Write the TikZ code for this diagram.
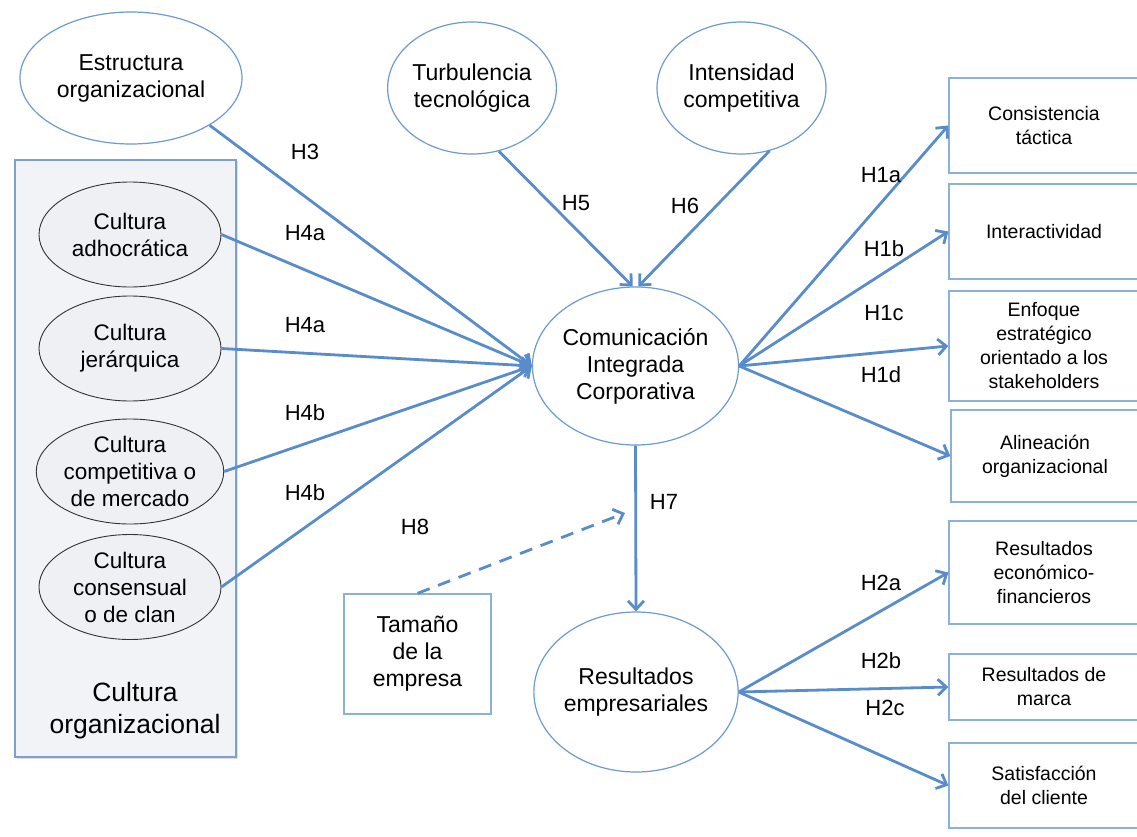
\documentclass[tikz,border=0pt]{standalone}
\usepackage{fontspec}
\setmainfont{Liberation Sans}
\usetikzlibrary{shapes.geometric,arrows.meta,shadows}

\definecolor{arrowblue}{RGB}{88,140,202}
\definecolor{edgeblue}{RGB}{108,154,210}
\definecolor{boxblue}{RGB}{140,176,220}
\definecolor{panelfill}{RGB}{241,243,246}
\definecolor{panelborder}{RGB}{125,160,207}
\definecolor{cultfill}{RGB}{238,240,243}

\begin{document}
\begin{tikzpicture}[x=1pt,y=-1pt,
  bigtext/.style={font=\fontsize{23}{27}\selectfont},
  smalltext/.style={font=\fontsize{19.5}{24}\selectfont},
  hlabel/.style={font=\fontsize{22}{26}\selectfont},
  construct/.style={ellipse, draw=edgeblue, line width=1.2pt, fill=white,
    inner sep=0pt, align=center, bigtext},
  culture/.style={ellipse, draw=black!80, line width=0.9pt, fill=cultfill,
    minimum width=182pt, minimum height=105pt, inner sep=0pt, align=center,
    font=\fontsize{22.5}{27}\selectfont},
  outcome/.style={rectangle, draw=boxblue, line width=1.3pt, fill=white,
    minimum width=190pt, inner sep=0pt, align=center, smalltext},
  panel/.style={rectangle, draw=panelborder, line width=1.2pt, fill=panelfill,
    drop shadow={shadow xshift=1.5pt, shadow yshift=-1.5pt, opacity=0.25}},
  link/.style={draw=arrowblue, line width=2.8pt,
    -{Straight Barb[length=8.5pt, width=16pt]}},
  dashlink/.style={link, dash pattern=on 13pt off 9pt}
]
\useasboundingbox (0,0) rectangle (1137,837);
\clip (0,0) rectangle (1137,837);

% culture panel with its four culture types
\node[panel, minimum width=221pt, minimum height=597pt] (panel) at (125.5,458.5) {};
\node[culture] (adho) at (130,234.5) {Cultura\\adhocrática};
\node[culture] (jera) at (130,348.5) {Cultura\\jerárquica};
\node[culture] (comp) at (130,471.5) {Cultura\\competitiva o\\de mercado};
\node[culture] (cons) at (130,587) {Cultura\\consensual\\o de clan};
\node[font=\fontsize{26.5}{32}\selectfont, align=center] (paneltitle) at (135,711) {Cultura\\organizacional};

% antecedents
\node[construct, minimum width=222pt, minimum height=132pt] (estr) at (131,78) {Estructura\\organizacional};
\node[construct, minimum width=168pt, minimum height=132pt] (turb) at (472,88) {Turbulencia\\tecnológica};
\node[construct, minimum width=169pt, minimum height=132pt] (inte) at (741.5,88) {Intensidad\\competitiva};

% central constructs
\node[construct, minimum width=204pt, minimum height=158pt] (cic) at (635.5,366) {Comunicación\\Integrada\\Corporativa};
\node[construct, minimum width=202pt, minimum height=160pt] (res) at (636,692) {Resultados\\empresariales};

% moderator
\node[rectangle, draw=boxblue, line width=1.3pt, fill=white, minimum width=147pt,
  minimum height=120pt, inner sep=0pt, align=center, bigtext] (tam) at (417.5,654) {Tamaño\\de la\\empresa};
\coordinate (modpt) at (625,513);

% dimensions of integrated communication
\node[outcome, minimum height=95pt] (tact) at (1044,125.5) {Consistencia\\táctica};
\node[outcome, minimum height=95pt] (inta) at (1044,231.5) {Interactividad};
\node[outcome, minimum height=110pt] (enfo) at (1044,346) {Enfoque\\estratégico\\orientado a los\\stakeholders};
\node[outcome, minimum height=92pt, minimum width=188pt] (alin) at (1045,456) {Alineación\\organizacional};

% business results
\node[outcome, minimum height=103pt] (econ) at (1044,572.5) {Resultados\\económico-\\financieros};
\node[outcome, minimum height=66pt] (marc) at (1044,687) {Resultados de\\marca};
\node[outcome, minimum height=85pt] (sati) at (1044,785.5) {Satisfacción\\del cliente};

% hypothesised paths
\draw[link] (estr.-31) -- (cic.west);
\draw[link] (adho.east) -- (cic.west);
\draw[link] (jera.east) -- (cic.west);
\draw[link] (comp.east) -- (cic.west);
\draw[link] (cons.east) -- (cic.west);
\draw[link] (turb.-67) -- (cic.92);
\draw[link] (inte.-66) -- (cic.88);
\draw[link] (cic.east) -- (tact.west);
\draw[link] (cic.east) -- (inta.west);
\draw[link] (cic.east) -- (enfo.west);
\draw[link] (cic.east) -- (alin.west);
\draw[link] (cic.south) -- (res.north);
\draw[dashlink] (tam.north) -- (modpt);
\draw[link] (res.east) -- (econ.west);
\draw[link] (res.east) -- (marc.west);
\draw[link] (res.east) -- (sati.west);

% path labels
\node[hlabel] (lh3) at (305,152) {H3};
\node[hlabel] (lh4a1) at (305,233) {H4a};
\node[hlabel] (lh4a2) at (305,325) {H4a};
\node[hlabel] (lh4b1) at (305,413) {H4b};
\node[hlabel] (lh4b2) at (305,493) {H4b};
\node[hlabel] (lh5) at (576,203) {H5};
\node[hlabel] (lh6) at (685,206) {H6};
\node[hlabel] (lh1a) at (881,175) {H1a};
\node[hlabel] (lh1b) at (884,249) {H1b};
\node[hlabel] (lh1c) at (884,313) {H1c};
\node[hlabel] (lh1d) at (881,375) {H1d};
\node[hlabel] (lh7) at (664,502) {H7};
\node[hlabel] (lh8) at (415,527) {H8};
\node[hlabel] (lh2a) at (881,583) {H2a};
\node[hlabel] (lh2b) at (881,661) {H2b};
\node[hlabel] (lh2c) at (885,708) {H2c};
\end{tikzpicture}
\end{document}
